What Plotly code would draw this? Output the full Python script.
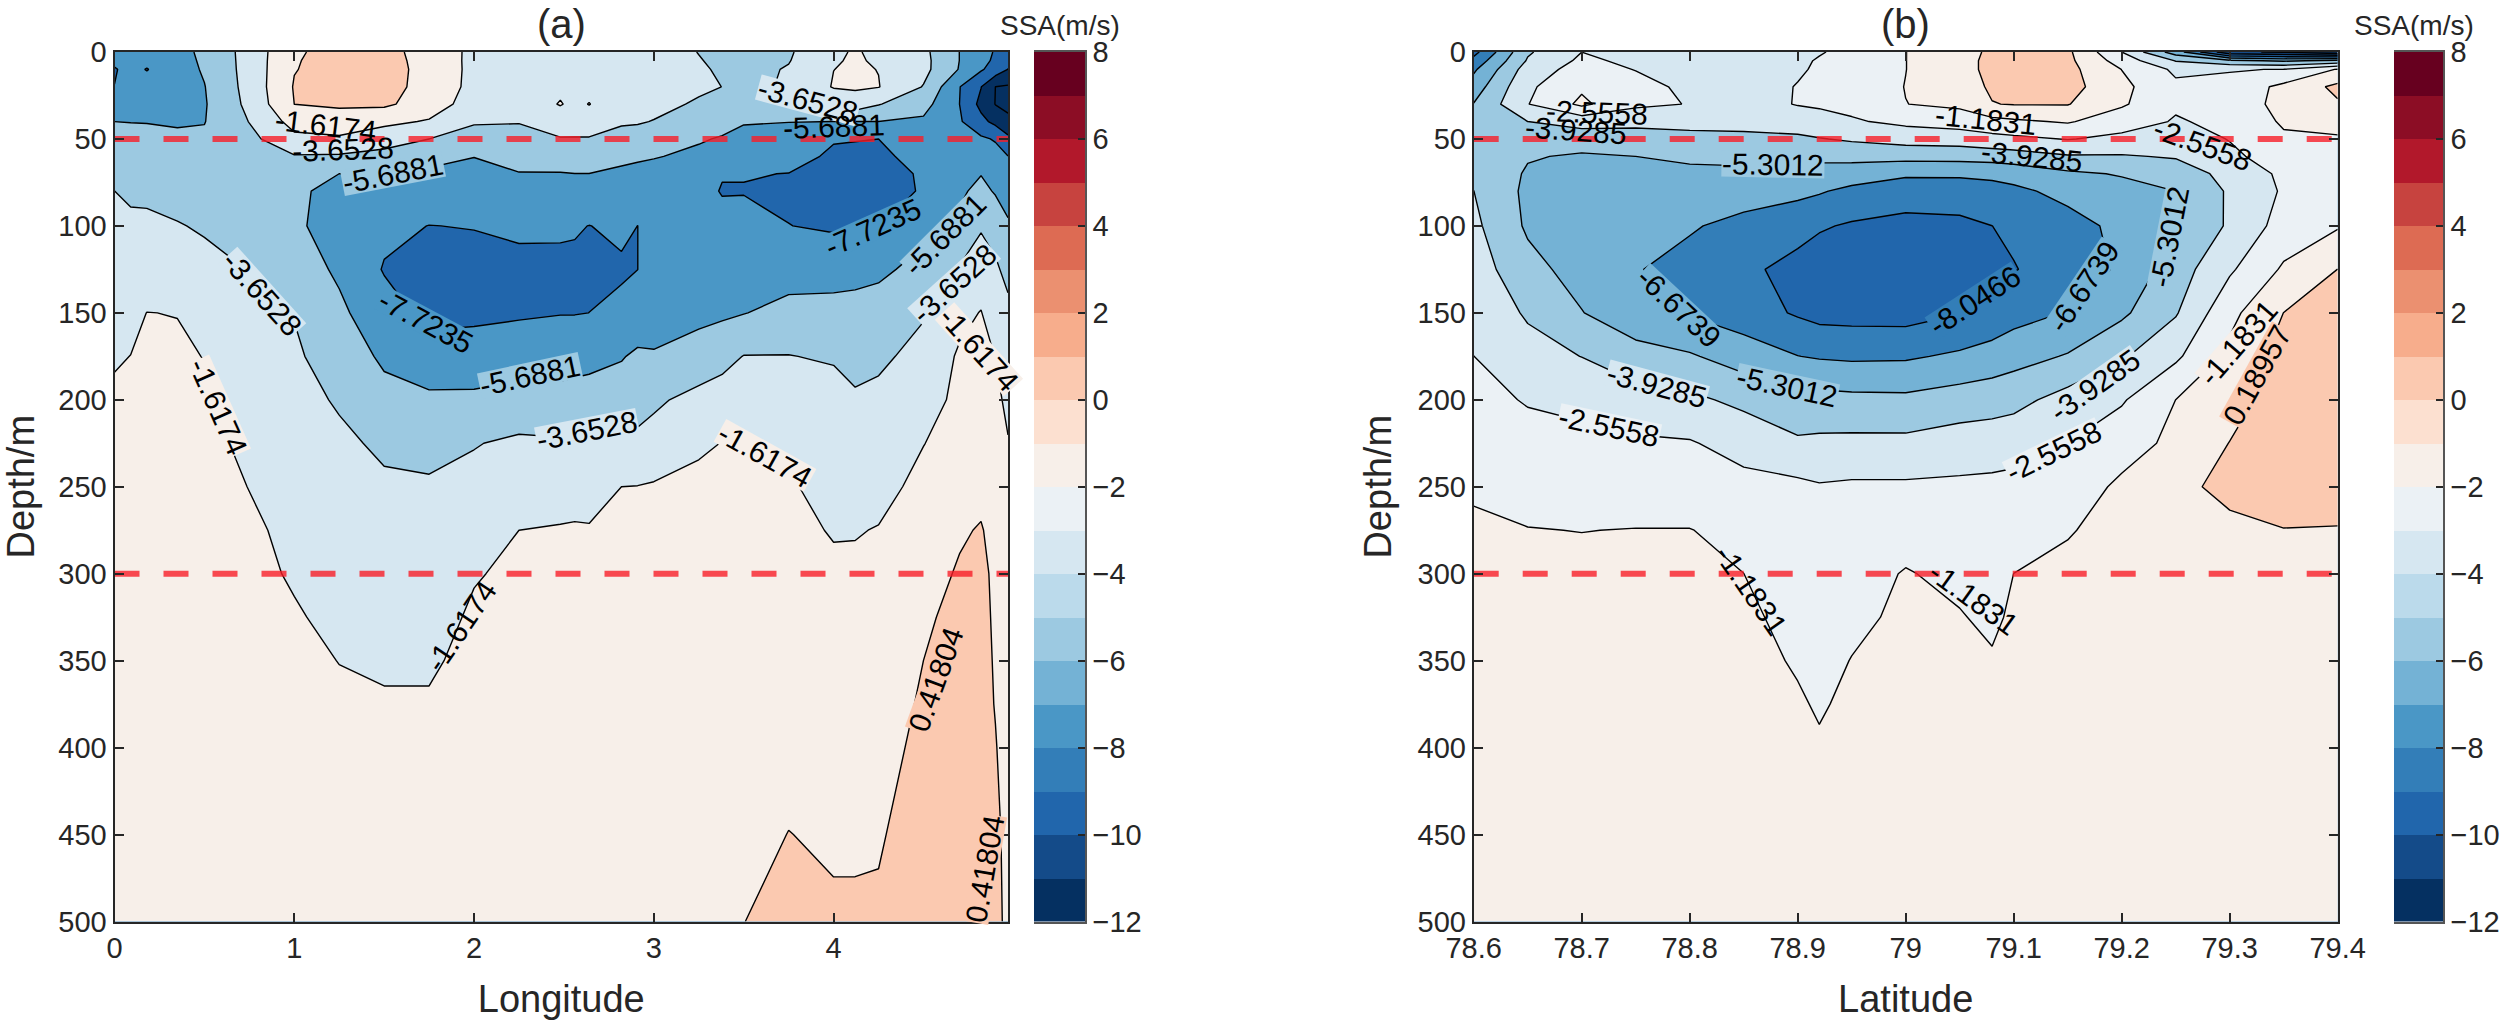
import numpy as np
import plotly.graph_objects as go

depth = [0, 5, 10, 20, 30, 40, 50, 60, 70, 80, 100, 125, 150, 175, 200, 225, 250, 275, 300, 325, 350, 375, 400, 450, 500]

lon = [0, .09, .18, .35, .5, .75, 1, 1.25, 1.5, 1.75, 2, 2.25, 2.48, 2.56, 2.64, 2.82, 2.91, 3, 3.25, 3.38, 3.5, 3.75, 4, 4.12, 4.25, 4.5, 4.7, 4.82, 4.9, 4.97]
# one row per longitude, one value per depth
ssa_a = [
 [-6.6,-7.4,-7.85,-7.7,-6.6,-5.69,-5.2,-4.7,-4.2,-3.65,-3.2,-2.75,-2.35,-1.8,-1.3,-1.0,-.85,-.8,-.7,-.65,-.6,-.55,-.5,-.4,-.35],
 [-6.4,-6.9,-7.2,-7.1,-6.4,-5.72,-5.25,-4.8,-4.4,-3.95,-3.3,-2.7,-2.1,-1.6,-1.15,-.95,-.85,-.8,-.7,-.65,-.6,-.55,-.5,-.4,-.35],
 [-6.4,-7.3,-7.8,-6.9,-6.2,-5.75,-5.2,-4.85,-4.55,-4.0,-3.3,-2.65,-1.6,-1.3,-1.1,-.95,-.85,-.8,-.7,-.65,-.6,-.55,-.5,-.4,-.35],
 [-6.3,-6.4,-6.5,-6.5,-6.3,-5.9,-5.3,-5.0,-4.7,-4.3,-3.55,-2.6,-1.65,-1.4,-1.15,-.95,-.85,-.8,-.7,-.65,-.6,-.55,-.5,-.4,-.35],
 [-5.3,-5.4,-5.5,-5.75,-5.85,-5.75,-5.4,-5.1,-4.85,-4.6,-3.85,-3.1,-2.35,-1.65,-1.35,-1.2,-1.0,-.9,-.8,-.7,-.6,-.55,-.5,-.4,-.35],
 [-2.9,-2.9,-2.9,-2.95,-3.15,-3.6,-4.2,-4.5,-4.65,-4.75,-4.4,-3.7,-3.1,-2.7,-2.3,-1.95,-1.65,-1.35,-1.15,-.95,-.8,-.7,-.6,-.45,-.35],
 [.2,.3,.35,.55,.42,-.9,-2.1,-3.8,-4.6,-5.5,-5.45,-4.7,-3.75,-3.3,-2.85,-2.45,-2.2,-2.0,-1.8,-1.45,-1.15,-.9,-.75,-.5,-.35],
 [1.0,1.05,1.1,1.1,.7,-.5,-1.9,-3.9,-5.69,-6.0,-6.3,-6.0,-5.3,-4.8,-3.9,-3.2,-2.75,-2.45,-2.25,-2.05,-1.65,-1.3,-1.0,-.55,-.35],
 [1.0,1.05,1.1,1.05,.75,-1.1,-2.9,-4.2,-5.6,-6.2,-7.3,-7.85,-6.95,-5.95,-5.2,-4.05,-3.3,-2.9,-2.6,-2.35,-1.85,-1.45,-1.1,-.6,-.35],
 [-.3,-.2,-.15,-.2,-.5,-1.8,-3.65,-5.2,-5.95,-6.5,-7.75,-8.4,-8.2,-7.0,-5.3,-4.4,-3.35,-3.0,-2.65,-2.35,-1.85,-1.45,-1.1,-.65,-.4],
 [-2.1,-2.15,-2.15,-2.2,-2.6,-3.5,-4.3,-5.65,-6.2,-6.6,-7.65,-8.4,-8.1,-6.9,-5.3,-3.75,-3.1,-2.6,-1.75,-1.35,-1.15,-.95,-.8,-.6,-.4],
 [-2.3,-2.3,-2.35,-2.5,-2.85,-3.55,-4.4,-5.1,-5.75,-6.3,-7.4,-8.2,-7.95,-6.6,-5.0,-3.3,-2.6,-1.617,-1.25,-1.05,-.9,-.8,-.7,-.55,-.4],
 [-2.35,-2.35,-2.3,-2.0,-1.5,-2.8,-3.75,-5.0,-5.75,-6.3,-7.45,-8.15,-7.8,-6.35,-5.2,-3.4,-2.35,-1.5,-1.2,-1.05,-.9,-.8,-.7,-.55,-.4],
 [-2.4,-2.4,-2.4,-2.3,-2.1,-2.95,-3.75,-4.95,-5.7,-6.25,-7.55,-8.1,-7.8,-6.2,-5.15,-3.4,-2.3,-1.45,-1.15,-1.0,-.9,-.8,-.7,-.55,-.4],
 [-2.4,-2.4,-2.4,-2.2,-1.55,-2.9,-3.75,-4.9,-5.7,-6.2,-7.75,-8.0,-7.72,-6.1,-5.1,-3.4,-2.25,-1.5,-1.2,-1.0,-.9,-.8,-.7,-.55,-.4],
 [-2.5,-2.5,-2.5,-2.7,-3.1,-3.5,-4.1,-5.3,-6.0,-6.6,-7.4,-7.95,-7.3,-5.8,-4.85,-3.3,-1.617,-1.35,-1.15,-1.0,-.9,-.8,-.7,-.55,-.4],
 [-2.6,-2.6,-2.6,-2.8,-3.1,-3.55,-4.15,-5.45,-6.15,-6.75,-7.73,-7.73,-6.8,-5.4,-4.6,-3.1,-1.58,-1.3,-1.15,-1.0,-.9,-.8,-.7,-.55,-.4],
 [-2.7,-2.75,-2.8,-3.0,-3.3,-3.7,-4.4,-5.6,-6.2,-6.7,-7.05,-7.0,-6.4,-5.55,-4.0,-2.9,-1.45,-1.25,-1.1,-1.0,-.9,-.8,-.7,-.5,-.35],
 [-3.7,-3.55,-3.4,-3.45,-3.8,-4.6,-5.55,-6.0,-6.5,-7.0,-6.9,-6.7,-6.1,-5.0,-3.0,-1.75,-1.4,-1.25,-1.1,-1.0,-.9,-.8,-.7,-.5,-.3],
 [-4.2,-4.05,-3.9,-3.66,-4.3,-5.2,-5.8,-6.3,-7.6,-7.85,-7.0,-6.6,-6.0,-4.3,-2.75,-1.6,-1.35,-1.2,-1.1,-1.0,-.9,-.8,-.7,-.5,-.3],
 [-4.3,-4.3,-4.3,-4.4,-4.9,-5.6,-6.05,-6.5,-7.65,-7.8,-7.15,-6.7,-5.75,-3.6,-2.6,-1.5,-1.4,-1.25,-1.1,-.9,-.7,-.6,-.5,-.2,.4],
 [-3.9,-3.75,-3.5,-3.3,-3.85,-5.65,-6.45,-7.1,-7.75,-8.0,-7.7,-6.5,-5.1,-3.6,-2.8,-2.0,-1.5,-1.3,-1.1,-.9,-.7,-.5,-.2,.45,.9],
 [-1.85,-1.75,-1.63,-1.5,-2.9,-5.69,-7.6,-8.0,-8.3,-8.4,-7.95,-6.5,-5.0,-3.85,-2.9,-2.35,-2.0,-1.7,-1.4,-1.1,-.75,-.5,-.15,.15,.7],
 [-1.5,-1.45,-1.4,-1.35,-2.6,-5.7,-7.65,-8.1,-8.3,-8.35,-7.9,-6.3,-5.0,-4.15,-3.45,-2.8,-2.05,-1.7,-1.35,-1.08,-.78,-.5,-.18,.2,.65],
 [-1.9,-1.8,-1.65,-1.55,-3.55,-5.7,-7.72,-8.2,-8.3,-8.3,-7.8,-6.0,-5.0,-4.1,-3.1,-2.6,-2.1,-1.55,-1.3,-1.05,-.8,-.5,-.2,.3,.6],
 [-3.2,-3.1,-3.1,-3.75,-5.0,-6.0,-6.5,-6.9,-7.55,-7.6,-6.1,-5.2,-3.85,-2.9,-2.35,-1.65,-1.2,-.8,-.3,.15,.42,.65,.85,1.0,1.0],
 [-5.7,-5.7,-5.8,-7.65,-7.72,-7.5,-7.0,-6.7,-6.4,-6.0,-5.3,-3.5,-2.1,-1.4,-1.2,-1.0,-.6,.2,.6,.9,1.0,1.05,1.05,1.05,1.05],
 [-6.5,-6.9,-7.5,-9.7,-10.3,-9.2,-7.4,-6.9,-5.75,-5.2,-3.85,-2.6,-1.55,-1.1,-.9,-.6,-.1,.55,.8,.85,.9,.95,1.0,1.05,1.05],
 [-8.0,-8.2,-8.6,-11.8,-11.85,-10.3,-7.9,-7.0,-6.3,-5.85,-4.5,-3.3,-2.6,-1.65,-1.3,-1.05,-.7,-.2,.1,.2,.28,.35,.5,.75,.8],
 [-9.2,-9.4,-9.8,-12.0,-12.0,-11.6,-9.2,-7.7,-6.9,-6.3,-5.5,-4.3,-3.1,-2.5,-1.9,-1.55,-1.3,-1.1,-.9,-.7,-.5,-.35,-.2,0,.1],
]

lat = [78.6, 78.65, 78.7, 78.75, 78.8, 78.85, 78.9, 78.92, 78.95, 79.0, 79.05, 79.08, 79.1, 79.15, 79.2, 79.25, 79.3, 79.35, 79.4]
ssa_b = [
 [-8.5,-7.6,-6.9,-6.0,-5.25,-5.0,-4.7,-4.4,-4.15,-3.92,-3.63,-3.27,-2.9,-2.55,-2.15,-1.75,-1.33,-1.0,-.8,-.7,-.6,-.55,-.5,-.5,-.5],
 [-4.1,-3.8,-3.3,-2.8,-2.6,-3.93,-4.7,-5.2,-5.45,-5.6,-5.5,-4.85,-4.1,-3.4,-2.65,-2.1,-1.6,-1.15,-.85,-.7,-.65,-.6,-.55,-.5,-.5],
 [-2.56,-2.3,-2.0,-1.4,-.9,-3.4,-4.7,-5.45,-5.8,-6.0,-6.1,-5.85,-5.25,-3.95,-2.9,-2.2,-1.75,-1.2,-.9,-.8,-.7,-.6,-.55,-.5,-.5],
 [-3.0,-2.85,-2.6,-2.1,-2.3,-3.5,-4.65,-5.3,-5.7,-6.0,-6.35,-6.6,-6.3,-4.7,-3.4,-2.35,-1.85,-1.15,-.9,-.8,-.7,-.6,-.55,-.5,-.5],
 [-3.15,-3.1,-3.05,-2.85,-2.6,-3.5,-4.35,-5.1,-5.55,-5.95,-6.55,-7.1,-6.8,-5.15,-3.65,-2.45,-1.9,-1.15,-.95,-.8,-.7,-.6,-.55,-.5,-.5],
 [-3.2,-3.2,-3.2,-3.15,-3.0,-3.5,-4.25,-5.0,-5.55,-6.1,-7.05,-7.75,-7.4,-5.95,-4.25,-3.05,-2.15,-1.55,-1.18,-.95,-.8,-.7,-.6,-.55,-.5],
 [-3.0,-2.8,-2.7,-2.5,-2.5,-3.2,-4.2,-5.05,-5.75,-6.35,-7.55,-8.5,-8.2,-6.65,-4.95,-3.7,-2.25,-2.05,-1.8,-1.55,-1.3,-1.05,-.8,-.6,-.5],
 [-2.65,-2.45,-2.4,-2.3,-2.4,-3.0,-4.0,-5.0,-5.8,-6.55,-7.9,-8.8,-8.5,-6.8,-4.85,-3.65,-2.45,-2.15,-1.95,-1.75,-1.55,-1.3,-1.05,-.7,-.55],
 [-2.2,-2.1,-2.05,-2.0,-2.2,-2.7,-3.75,-4.9,-6.0,-7.0,-8.2,-9.0,-8.55,-6.9,-4.95,-3.6,-2.35,-2.0,-1.7,-1.45,-1.15,-.95,-.8,-.6,-.5],
 [-1.2,-1.2,-1.2,-1.15,-1.2,-2.25,-3.4,-4.85,-6.5,-7.3,-8.5,-9.2,-8.6,-6.85,-5.0,-3.6,-2.35,-1.7,-1.1,-.95,-.8,-.7,-.65,-.55,-.5],
 [-.15,-.1,-.1,-.35,-.9,-1.95,-3.3,-4.8,-6.5,-7.25,-8.4,-8.95,-8.1,-6.45,-4.65,-3.3,-2.3,-1.85,-1.5,-1.1,-.85,-.7,-.6,-.55,-.5],
 [.35,.4,.4,.35,.15,-1.6,-3.0,-4.7,-6.4,-7.1,-8.05,-8.6,-7.65,-6.1,-4.5,-3.2,-2.25,-2.0,-1.75,-1.45,-1.05,-.8,-.65,-.55,-.5],
 [.8,.85,.85,.75,.25,-1.4,-2.85,-4.55,-6.2,-6.95,-7.85,-8.1,-7.2,-5.8,-4.35,-3.05,-2.2,-1.65,-1.18,-.95,-.8,-.7,-.6,-.55,-.5],
 [.45,.5,.6,.7,.25,-1.05,-2.5,-4.05,-5.55,-6.3,-7.15,-7.5,-6.6,-5.2,-3.4,-2.55,-1.85,-1.25,-.95,-.85,-.75,-.65,-.6,-.55,-.5],
 [-2.55,-1.8,-1.2,-.85,-1.0,-2.0,-2.85,-4.05,-5.2,-5.75,-6.35,-6.45,-5.55,-4.1,-2.7,-1.7,-.95,-.85,-.8,-.7,-.65,-.6,-.55,-.5,-.5],
 [-6.0,-4.0,-2.8,-2.3,-2.4,-2.65,-3.2,-3.8,-4.75,-5.3,-5.25,-4.6,-4.05,-2.8,-1.18,-.9,-.3,-.6,-.7,-.65,-.6,-.55,-.55,-.5,-.5],
 [-10.5,-5.0,-2.65,-2.1,-2.1,-2.3,-2.5,-2.85,-3.45,-3.75,-3.75,-2.75,-1.55,-.85,-.4,.22,.7,-.25,-.6,-.6,-.55,-.55,-.5,-.5,-.5],
 [-11.0,-5.5,-2.5,-.85,-.7,-1.0,-1.4,-1.85,-2.3,-2.4,-2.0,-1.0,.2,.7,.9,1.0,.95,.15,-.5,-.55,-.5,-.5,-.5,-.5,-.5],
 [-12.0,-5.0,-1.1,.5,.05,-.8,-1.3,-1.6,-1.8,-1.9,-1.3,.2,.95,1.1,1.15,1.15,1.0,.1,-.45,-.5,-.5,-.5,-.5,-.5,-.5],
]

levels_a = [-11.794, -9.7589, -7.7235, -5.6881, -3.6528, -1.6174, 0.41804]
levels_b = [-10.792, -9.4193, -8.0466, -6.6739, -5.3012, -3.9285, -2.5558, -1.1831, 0.18957]
reference_depths = [50, 300]

# colour bar cells, from -12 upward in steps of 1
cbar_edges = list(range(-12, 9))
cbar_colors = ["#053061", "#144b89", "#2166ac", "#337eb8", "#4a97c6", "#74b2d5", "#9cc9e1", "#bbdaeb", "#d6e7f1", "#ebf1f5",
               "#f7efe9", "#fce0d0", "#fbc9b0", "#f7ad8c", "#eb9070", "#dd6b53", "#c7433f", "#b2182b", "#8c0d25", "#67001f"]
cbar_ticks = list(range(-12, 9, 2))

xticks_a = [0, 1, 2, 3, 4]
xticks_b = [78.6, 78.7, 78.8, 78.9, 79.0, 79.1, 79.2, 79.3, 79.4]
xticklabels_b = ["78.6", "78.7", "78.8", "78.9", "79", "79.1", "79.2", "79.3", "79.4"]
yticks = [0, 50, 100, 150, 200, 250, 300, 350, 400, 450, 500]

# text, x, depth, angle, mask behind the text
labels_a = [
 ("-1.6174", 1.175, 42, 7, False), ("-3.6528", 1.27, 56, -2, False), ("-5.6881", 1.55, 70, -11, True),
 ("-3.6528", .82, 139, 48, True), ("-1.6174", .575, 204, 66, True), ("-7.7235", 1.73, 155, 28, True),
 ("-5.6881", 2.31, 186, -12, True), ("-3.6528", 2.63, 217.5, -11, True), ("-1.6174", 3.62, 232, 29, True),
 ("-1.6174", 1.93, 330, -56, False), ("-3.6528", 3.86, 28, 15, True), ("-5.6881", 4.0, 43, -2, False),
 ("-7.7235", 4.22, 101, -24, True), ("-5.6881", 4.62, 105, -45, True), ("-3.6528", 4.67, 133, -42, True),
 ("-1.6174", 4.81, 171, 48, True), ("0.41804", 4.57, 361, -70, True), ("0.41804", 4.84, 470, -80, True),
]
labels_b = [
 ("-2.5558", 78.714, 35, 2, False), ("-3.9285", 78.695, 45, 4, False), ("-5.3012", 78.877, 64.6, 1, True),
 ("-6.6739", 78.79, 147, 43, True), ("-8.0466", 79.064, 143, -33, True), ("-6.6739", 79.165, 135, -56, True),
 ("-5.3012", 79.244, 106, -79, True), ("-3.9285", 78.77, 191.6, 15, True), ("-5.3012", 78.89, 192.6, 12, True),
 ("-2.5558", 78.725, 215.6, 12, True), ("-1.1831", 78.857, 309.6, 55, False), ("-1.1831", 79.063, 314, 36, False),
 ("-1.1831", 79.074, 39, 6, False), ("-3.9285", 79.117, 60, 6, False), ("-2.5558", 79.275, 53, 20, False),
 ("-3.9285", 79.175, 191.6, -35, True), ("-2.5558", 79.137, 230, -26, True), ("-1.1831", 79.308, 167, -49, True),
 ("0.18957", 79.325, 186, -61, True),
]

W, H = 2500, 1026
FONT = "Liberation Sans"
INK = "#262626"
TOP, BOTTOM = 52, 921.5


def xdom(a, b):
    return [a / W, b / W]


YDOM = [1 - BOTTOM / H, 1 - TOP / H]


def cell_color(v):
    i = int(np.floor(v)) + 12
    return cbar_colors[max(0, min(i, len(cbar_colors) - 1))]


def band_colorscale(levels):
    cols = [cbar_colors[0]] + [cell_color(v) for v in levels]
    n = len(cols) - 1
    return [[i / n, c] for i, c in enumerate(cols)]


def contour(xs, z, levels, xa, ya):
    step = (levels[-1] - levels[0]) / (len(levels) - 1)
    return go.Contour(
        x=xs, y=depth, z=np.array(z).T.tolist(), xaxis=xa, yaxis=ya,
        colorscale=band_colorscale(levels), showscale=False, hoverinfo="skip",
        contours=dict(coloring="fill", start=levels[0], end=levels[-1], size=step, showlabels=False),
        line=dict(color="black", width=1.4, smoothing=0),
    )


fig = go.Figure()
fig.add_trace(contour(lon, ssa_a, levels_a, "x", "y"))
fig.add_trace(contour(lat, ssa_b, levels_b, "x3", "y3"))

for xs, xa, ya in ((lon, "x", "y"), (lat, "x3", "y3")):
    for d in reference_depths:
        fig.add_trace(go.Scatter(x=[xs[0], xs[-1]], y=[d, d], xaxis=xa, yaxis=ya, mode="lines", hoverinfo="skip",
                                 showlegend=False, line=dict(color="rgba(248,30,40,0.8)", width=6, dash="25px,24px")))

cscale = []
for i, c in enumerate(cbar_colors):
    cscale += [[i / len(cbar_colors), c], [(i + 1) / len(cbar_colors), c]]
cell_values = [[(cbar_edges[i] + cbar_edges[i + 1]) / 2] for i in range(len(cbar_colors))]
for xa, ya in (("x2", "y2"), ("x4", "y4")):
    fig.add_trace(go.Heatmap(x=[0, 1], y=cbar_edges, z=cell_values, xaxis=xa, yaxis=ya, colorscale=cscale,
                             zmin=-12, zmax=8, showscale=False, hoverinfo="skip"))

axis_common = dict(showgrid=False, zeroline=False, showline=True, linecolor=INK, linewidth=2, mirror="allticks",
                   ticks="inside", ticklen=9, tickwidth=1.5, tickcolor=INK, automargin=False,
                   tickfont=dict(family=FONT, size=29, color=INK))
title_font = dict(family=FONT, size=38, color=INK)

fig.update_layout(
    width=W, height=H, margin=dict(l=0, r=0, t=0, b=0), paper_bgcolor="white", plot_bgcolor="white", showlegend=False,
    font=dict(family=FONT),
    xaxis=dict(axis_common, domain=xdom(114.5, 1008), range=[lon[0], lon[-1]], tickvals=xticks_a,
               title=dict(text="Longitude", font=title_font, standoff=22)),
    yaxis=dict(axis_common, domain=YDOM, range=[500, 0], tickvals=yticks,
               title=dict(text="Depth/m", font=title_font, standoff=14)),
    xaxis3=dict(axis_common, domain=xdom(1473.7, 2337.7), range=[lat[0], lat[-1]], tickvals=xticks_b, ticktext=xticklabels_b,
                anchor="y3", title=dict(text="Latitude", font=title_font, standoff=22)),
    yaxis3=dict(axis_common, domain=YDOM, range=[500, 0], tickvals=yticks, anchor="x3",
                title=dict(text="Depth/m", font=title_font, standoff=14)),
)
cb_axis = dict(axis_common, domain=YDOM, range=[-12, 8], tickvals=cbar_ticks, side="right", mirror=False, ticklen=7,
               linewidth=1.5, linecolor="#555555")
cb_x = dict(domain=None, range=[0, 1], showticklabels=False, ticks="", showgrid=False, zeroline=False, showline=True,
            linecolor="#555555", linewidth=1.5, mirror=True, automargin=False)
fig.update_layout(
    xaxis2=dict(cb_x, domain=xdom(1034, 1085), anchor="y2"),
    yaxis2=dict(cb_axis, anchor="x2"),
    xaxis4=dict(cb_x, domain=xdom(2394, 2443), anchor="y4"),
    yaxis4=dict(cb_axis, anchor="x4"),
)

ann = []
for labels, levels, xa, ya in ((labels_a, levels_a, "x", "y"), (labels_b, levels_b, "x3", "y3")):
    for text, x, d, angle, mask in labels:
        v = float(text)
        bg = cell_color(v) if mask else "rgba(0,0,0,0)"
        ann.append(dict(text=text, x=x, y=d, xref=xa, yref=ya, showarrow=False, textangle=angle, bgcolor=bg, borderpad=0,
                        height=25, valign="middle", font=dict(family=FONT, size=30, color="black")))
for text, cx, cy, size in (("(a)", 561, 24, 40), ("(b)", 1905, 24, 40),
                           ("SSA(m/s)", 1060, 25, 28), ("SSA(m/s)", 2414, 25, 28)):
    ann.append(dict(text=text, x=cx / W, y=1 - cy / H, xref="paper", yref="paper", showarrow=False, xanchor="center",
                    yanchor="middle", font=dict(family=FONT, size=size, color=INK)))
fig.update_layout(annotations=ann)

fig.write_html("out.html", config=dict(displayModeBar=False), post_script="document.body.style.margin='0';")
